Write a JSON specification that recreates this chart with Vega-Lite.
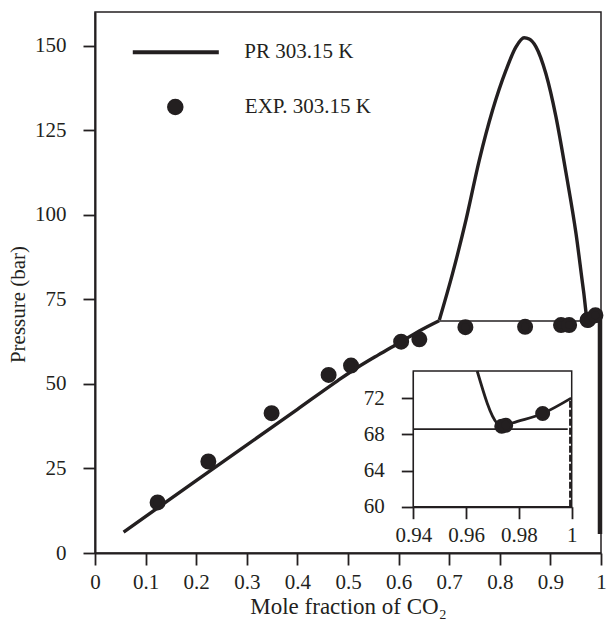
{
  "$schema": "https://vega.github.io/schema/vega-lite/v6.json",
  "width": 506,
  "height": 541,
  "autosize": {"type": "none"},
  "padding": {"left": 95, "top": 12, "right": 5, "bottom": 69},
  "background": "white",
  "datasets": {
    "curve": [
      {"series": "PR 303.15 K", "seg": "bubble", "x": 0.0565, "p": 6.2},
      {"series": "PR 303.15 K", "seg": "bubble", "x": 0.2, "p": 21.4},
      {"series": "PR 303.15 K", "seg": "bubble", "x": 0.4, "p": 42.5},
      {"series": "PR 303.15 K", "seg": "bubble", "x": 0.48, "p": 51.0},
      {"series": "PR 303.15 K", "seg": "bubble", "x": 0.52, "p": 55.0},
      {"series": "PR 303.15 K", "seg": "bubble", "x": 0.56, "p": 58.6},
      {"series": "PR 303.15 K", "seg": "bubble", "x": 0.605, "p": 62.5},
      {"series": "PR 303.15 K", "seg": "bubble", "x": 0.64, "p": 65.6},
      {"series": "PR 303.15 K", "seg": "bubble", "x": 0.68, "p": 68.7},
      {"series": "PR 303.15 K", "seg": "dew", "x": 0.6805, "p": 68.9},
      {"series": "PR 303.15 K", "seg": "dew", "x": 0.7067, "p": 82.7},
      {"series": "PR 303.15 K", "seg": "dew", "x": 0.7332, "p": 98.5},
      {"series": "PR 303.15 K", "seg": "dew", "x": 0.7595, "p": 116.2},
      {"series": "PR 303.15 K", "seg": "dew", "x": 0.7858, "p": 131.0},
      {"series": "PR 303.15 K", "seg": "dew", "x": 0.8123, "p": 142.8},
      {"series": "PR 303.15 K", "seg": "dew", "x": 0.832, "p": 149.7},
      {"series": "PR 303.15 K", "seg": "dew", "x": 0.848, "p": 152.4},
      {"series": "PR 303.15 K", "seg": "dew", "x": 0.858, "p": 152.0},
      {"series": "PR 303.15 K", "seg": "dew", "x": 0.8715, "p": 149.7},
      {"series": "PR 303.15 K", "seg": "dew", "x": 0.891, "p": 141.8},
      {"series": "PR 303.15 K", "seg": "dew", "x": 0.911, "p": 129.0},
      {"series": "PR 303.15 K", "seg": "dew", "x": 0.931, "p": 112.3},
      {"series": "PR 303.15 K", "seg": "dew", "x": 0.9506, "p": 94.5},
      {"series": "PR 303.15 K", "seg": "dew", "x": 0.9655, "p": 77.5},
      {"series": "PR 303.15 K", "seg": "dew", "x": 0.9737, "p": 68.9},
      {"series": "PR 303.15 K", "seg": "dew", "x": 0.9775, "p": 69.25},
      {"series": "PR 303.15 K", "seg": "dew", "x": 0.989, "p": 70.3},
      {"series": "PR 303.15 K", "seg": "dew", "x": 0.998, "p": 71.7},
      {"series": "PR 303.15 K", "seg": "tie", "x": 0.68, "p": 68.6},
      {"series": "PR 303.15 K", "seg": "tie", "x": 1.0, "p": 68.6},
      {"series": "PR 303.15 K", "seg": "vert", "x": 0.998, "p": 71.7},
      {"series": "PR 303.15 K", "seg": "vert", "x": 0.998, "p": 5.6}
    ],
    "inset": [
      {"seg": "dew", "x": 0.9642, "p": 75.0},
      {"seg": "dew", "x": 0.9718, "p": 69.2},
      {"seg": "dew", "x": 0.9737, "p": 68.85},
      {"seg": "dew", "x": 0.9775, "p": 69.25},
      {"seg": "dew", "x": 0.989, "p": 70.3},
      {"seg": "dew", "x": 0.9998, "p": 72.0},
      {"seg": "tie", "x": 0.94, "p": 68.57},
      {"seg": "tie", "x": 0.9985, "p": 68.57},
      {"seg": "vert", "x": 0.9995, "p": 72.0},
      {"seg": "vert", "x": 0.9995, "p": 60.0}
    ],
    "exp": [
      {"series": "EXP. 303.15 K", "x": 0.1237, "p": 14.95},
      {"series": "EXP. 303.15 K", "x": 0.224, "p": 27.06},
      {"series": "EXP. 303.15 K", "x": 0.349, "p": 41.36},
      {"series": "EXP. 303.15 K", "x": 0.4617, "p": 52.67},
      {"series": "EXP. 303.15 K", "x": 0.506, "p": 55.42},
      {"series": "EXP. 303.15 K", "x": 0.605, "p": 62.5},
      {"series": "EXP. 303.15 K", "x": 0.641, "p": 63.2},
      {"series": "EXP. 303.15 K", "x": 0.732, "p": 66.8},
      {"series": "EXP. 303.15 K", "x": 0.85, "p": 66.9},
      {"series": "EXP. 303.15 K", "x": 0.921, "p": 67.4},
      {"series": "EXP. 303.15 K", "x": 0.937, "p": 67.4},
      {"series": "EXP. 303.15 K", "x": 0.9735, "p": 68.9},
      {"series": "EXP. 303.15 K", "x": 0.975, "p": 69.0},
      {"series": "EXP. 303.15 K", "x": 0.989, "p": 70.3}
    ]
  },
  "layer": [
    {
      "layer": [
        {
          "data": {"name": "curve"},
          "transform": [{"filter": "datum.seg === 'bubble' || datum.seg === 'dew'"}],
          "mark": {"type": "line", "strokeWidth": 3.4, "interpolate": "monotone"},
          "encoding": {
            "x": {"field": "x", "type": "quantitative"},
            "y": {"field": "p", "type": "quantitative"},
            "detail": {"field": "seg"},
            "order": {"field": "x", "type": "quantitative"},
            "color": {
              "field": "series", "type": "nominal",
              "scale": {"domain": ["PR 303.15 K"], "range": ["#231f20"]},
              "legend": {
                "orient": "none",
                "legendX": 35.3,
                "legendY": -5.3,
                "padding": 0,
                "title": null,
                "symbolType": "stroke",
                "symbolSize": 7400,
                "symbolStrokeWidth": 4,
                "symbolStrokeColor": "#231f20",
                "symbolOpacity": 1,
                "labelFont": "Liberation Serif",
                "labelFontSize": 21,
                "labelColor": "#231f20",
                "labelOffset": 23
              }
            }
          }
        },
        {
          "data": {"name": "curve"},
          "transform": [{"filter": "datum.seg === 'tie'"}],
          "mark": {"type": "line", "color": "#231f20", "strokeWidth": 1.6},
          "encoding": {
            "x": {"field": "x", "type": "quantitative"},
            "y": {"field": "p", "type": "quantitative"}
          }
        },
        {
          "data": {"name": "curve"},
          "transform": [{"filter": "datum.seg === 'vert'"}],
          "mark": {"type": "line", "color": "#231f20", "strokeWidth": 4.5},
          "encoding": {
            "x": {"field": "x", "type": "quantitative"},
            "y": {"field": "p", "type": "quantitative"},
            "order": {"field": "p", "type": "quantitative"}
          }
        },
        {
          "data": {"name": "exp"},
          "mark": {"type": "point", "filled": true, "fill": "#231f20", "stroke": "#231f20", "strokeWidth": 4, "opacity": 1, "size": 144},
          "encoding": {
            "x": {
              "field": "x", "type": "quantitative",
              "scale": {"domain": [0, 1], "nice": false, "zero": false},
              "axis": {
                "orient": "bottom",
                "values": [0, 0.1, 0.2, 0.3, 0.4, 0.5, 0.6, 0.7, 0.8, 0.9, 1],
                "format": "~g",
                "labelFlush": false,
                "labelOverlap": false,
                "labelPadding": 6,
                "title": "Mole fraction of CO₂",
                "titleFontSize": 23,
                "titlePadding": 3
              }
            },
            "y": {
              "field": "p", "type": "quantitative",
              "scale": {"domain": [0, 160], "nice": false, "zero": false},
              "axis": {
                "orient": "left",
                "values": [0, 25, 50, 75, 100, 125, 150],
                "labelFlush": false,
                "labelOverlap": false,
                "labelPadding": 17,
                "title": "Pressure (bar)",
                "titleX": -67,
                "titleY": 292
              }
            },
            "shape": {
              "field": "series", "type": "nominal",
              "scale": {"domain": ["EXP. 303.15 K"], "range": ["circle"]},
              "legend": {
                "orient": "none",
                "legendX": 69.8,
                "legendY": 84.5,
                "padding": 0,
                "title": null,
                "labelFont": "Liberation Serif",
                "labelFontSize": 21,
                "labelColor": "#231f20",
                "labelOffset": 59,
                "symbolSize": 225,
                "symbolFillColor": "#231f20",
                "symbolOpacity": 1
              }
            }
          }
        }
      ]
    },
    {
      "layer": [
        {
          "data": {"values": [{}]},
          "mark": {"type": "rect", "fill": "white", "stroke": "#231f20", "strokeWidth": 1.5},
          "encoding": {
            "x": {"datum": 0.94, "type": "quantitative"},
            "x2": {"datum": 1},
            "y": {"datum": 60, "type": "quantitative"},
            "y2": {"datum": 75}
          }
        },
        {
          "data": {"name": "inset"},
          "transform": [{"filter": "datum.seg === 'tie'"}],
          "mark": {"type": "line", "color": "#231f20", "strokeWidth": 1.6},
          "encoding": {
            "x": {"field": "x", "type": "quantitative"},
            "y": {"field": "p", "type": "quantitative"}
          }
        },
        {
          "data": {"name": "inset"},
          "transform": [{"filter": "datum.seg === 'dew'"}],
          "mark": {"type": "line", "color": "#231f20", "strokeWidth": 2.8, "interpolate": "monotone"},
          "encoding": {
            "x": {"field": "x", "type": "quantitative"},
            "y": {"field": "p", "type": "quantitative"}
          }
        },
        {
          "data": {"name": "inset"},
          "transform": [{"filter": "datum.seg === 'vert'"}],
          "mark": {"type": "line", "color": "#231f20", "strokeWidth": 2.6, "strokeDash": [7, 2]},
          "encoding": {
            "x": {"field": "x", "type": "quantitative"},
            "y": {"field": "p", "type": "quantitative"},
            "order": {"field": "p", "type": "quantitative"}
          }
        },
        {
          "data": {"name": "exp"},
          "transform": [{"filter": "datum.x >= 0.94"}],
          "mark": {"type": "point", "filled": true, "fill": "#231f20", "stroke": "#231f20", "strokeWidth": 3, "opacity": 1, "size": 144},
          "encoding": {
            "x": {
              "field": "x", "type": "quantitative",
              "scale": {"domain": [0.94, 1], "range": [318.3, 476.7], "nice": false, "zero": false},
              "axis": {
                "orient": "bottom",
                "offset": -46.3,
                "values": [0.94, 0.96, 0.98, 1],
                "format": "~g",
                "labelFlush": false,
                "labelOverlap": false,
                "labelPadding": 6,
                "title": null
              }
            },
            "y": {
              "field": "p", "type": "quantitative",
              "scale": {"domain": [60, 75], "range": [494.7, 359], "nice": false, "zero": false},
              "axis": {
                "orient": "left",
                "offset": -318.3,
                "values": [60, 64, 68, 72],
                "labelFlush": false,
                "labelOverlap": false,
                "labelPadding": 17,
                "title": null
              }
            }
          }
        }
      ]
    }
  ],
  "resolve": {
    "scale": {"x": "independent", "y": "independent"},
    "axis": {"x": "independent", "y": "independent"}
  },
  "config": {
    "view": {"stroke": "#231f20", "strokeWidth": 1.5},
    "axis": {
      "grid": false,
      "domainColor": "#231f20",
      "domainWidth": 2,
      "tickColor": "#231f20",
      "tickWidth": 1.8,
      "tickSize": 12,
      "labelColor": "#231f20",
      "titleColor": "#231f20",
      "labelFont": "Liberation Serif",
      "titleFont": "Liberation Serif",
      "labelFontSize": 21,
      "titleFontSize": 21,
      "titleFontWeight": "normal"
    }
  }
}
